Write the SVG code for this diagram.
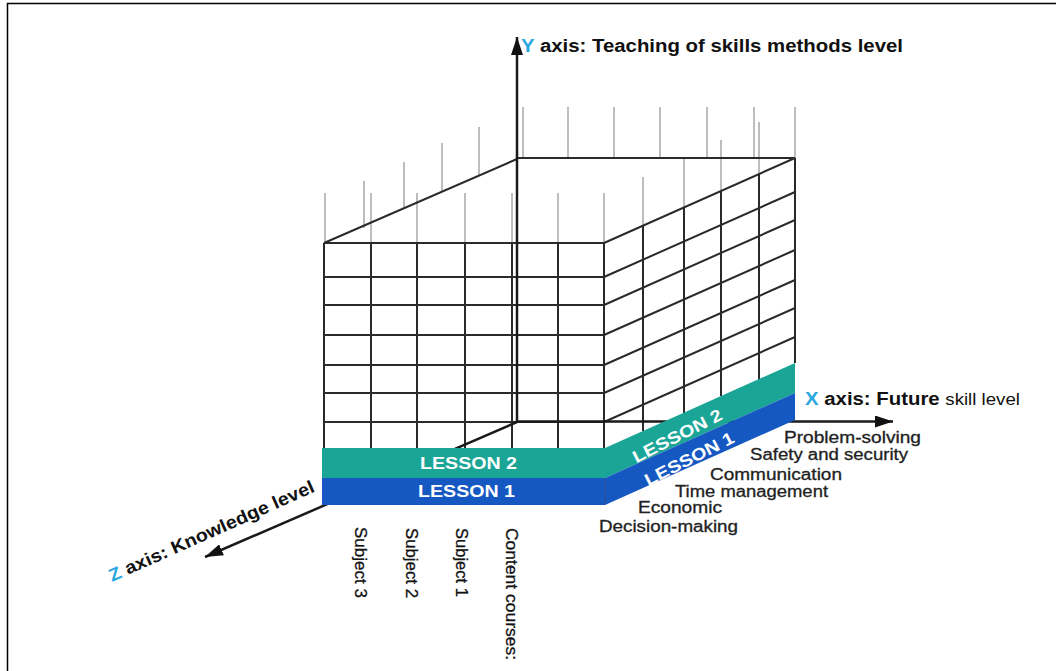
<svg xmlns="http://www.w3.org/2000/svg" width="1056" height="671" viewBox="0 0 1056 671">
<style>
.tick{stroke:#a8a8a8;stroke-width:1.5;fill:none}
.grid{stroke:#2a2a2a;stroke-width:2;fill:none}
.axis{stroke:#1a1a1a;stroke-width:2.5;fill:none}
.lbl{font-family:"Liberation Sans",Arial,sans-serif;font-weight:bold;font-size:18px;fill:#111}
.cy{fill:#2aa7df}
.nrm{font-weight:normal}
.sk{font-family:"Liberation Sans",Arial,sans-serif;font-size:16px;fill:#222;stroke:#222;stroke-width:0.3}
.sub{font-family:"Liberation Sans",Arial,sans-serif;font-size:17px;fill:#111;stroke:#111;stroke-width:0.3}
.les{font-family:"Liberation Sans",Arial,sans-serif;font-weight:bold;font-size:17px;fill:#fff}
.teal{fill:#1aa596}
.blue{fill:#1658c2}
</style>
<defs>
<marker id="ah" markerUnits="userSpaceOnUse" markerWidth="18" markerHeight="12" refX="18" refY="6" orient="auto">
<path d="M0,0 L18,6 L0,12 z" fill="#111"/>
</marker>
</defs>
<rect width="1056" height="671" fill="#fff"/>
<g id="frame" stroke="#000" stroke-width="1.5" fill="none">
<path d="M1056,3.5 H7.5 V671"/>
</g>
<g id="cube">
<g id="ticks" class="tick">
<path d="M325,193V243 M371,193V243 M417,193V243 M465,193V243 M512,193V243 M558,193V243 M604,193V243"/>
<path d="M364,181V228 M404,162V209 M442,143V192 M479,127V176"/>
<path d="M523,107V158 M568,107V158 M614,107V158 M660,107V158 M707,107V158 M754,107V158 M795,107V158"/>
<path d="M643,177V226 M684,157V208 M721,140V190 M759,122V174"/>
</g>
<g id="front-face" class="grid">
<path d="M324,243V448 M371,243V448 M417,243V448 M465,243V448 M512,243V448 M558,243V448 M604,243V448"/>
<path d="M324,243H604 M324,277H604 M324,305H604 M324,335H604 M324,365H604 M324,393H604 M324,422H604"/>
</g>
<g id="top-face" class="grid">
<path d="M324,243L517,159 M517,158H795 M604,243L795,158"/>
</g>
<g id="right-face" class="grid">
<path d="M604,277L795,192 M604,305L795,220 M604,335L795,250 M604,365L795,280 M604,393L795,308 M604,422L795,337"/>
<path d="M643,226V431 M684,208V413 M721,191V396 M759,174V380 M795,158V363"/>
</g>
</g>
<g id="connectors">
<line id="y-axis" class="axis" x1="517" y1="422" x2="517" y2="37" marker-end="url(#ah)"/>
<line id="x-axis" class="axis" x1="517" y1="421.5" x2="893" y2="421.5" marker-end="url(#ah)"/>
<line id="z-axis" class="axis" x1="517" y1="422" x2="205" y2="557" marker-end="url(#ah)"/>
</g>
<g id="lesson-2">
<rect class="teal" x="322" y="448" width="283" height="30"/>
<polygon class="teal" points="605,448 795,363 795,393 605,478"/>
<text class="les" x="420" y="469" textLength="97" lengthAdjust="spacingAndGlyphs">LESSON 2</text>
<text class="les" transform="translate(680,441) rotate(-27)" text-anchor="middle" textLength="98" lengthAdjust="spacingAndGlyphs">LESSON 2</text>
</g>
<g id="lesson-1">
<rect class="blue" x="322" y="478" width="283" height="27"/>
<polygon class="blue" points="605,478 795,393 795,420 605,505"/>
<line x1="605" y1="478" x2="605" y2="505" stroke="#2c4f8f" stroke-width="1"/>
<text class="les" x="418" y="497" textLength="97" lengthAdjust="spacingAndGlyphs">LESSON 1</text>
<text class="les" transform="translate(692,464) rotate(-27)" text-anchor="middle" textLength="98" lengthAdjust="spacingAndGlyphs">LESSON 1</text>
</g>
<g id="y-label">
<text class="lbl" x="521" y="52" textLength="382" lengthAdjust="spacingAndGlyphs"><tspan class="cy">Y</tspan> axis: Teaching of skills methods level</text>
</g>
<g id="x-label">
<text class="lbl" x="805" y="405" textLength="215" lengthAdjust="spacingAndGlyphs"><tspan class="cy">X</tspan> axis: Future <tspan class="nrm" font-size="16.5">skill level</tspan></text>
</g>
<g id="z-label">
<text class="lbl" transform="translate(112,582) rotate(-24)" textLength="223" lengthAdjust="spacingAndGlyphs"><tspan class="cy">Z</tspan> axis: Knowledge level</text>
</g>
<g id="skills">
<text class="sk" x="784" y="443" textLength="137" lengthAdjust="spacingAndGlyphs">Problem-solving</text>
<text class="sk" x="750" y="460" textLength="158" lengthAdjust="spacingAndGlyphs">Safety and security</text>
<text class="sk" x="710" y="480" textLength="132" lengthAdjust="spacingAndGlyphs">Communication</text>
<text class="sk" x="675" y="497" textLength="153" lengthAdjust="spacingAndGlyphs">Time management</text>
<text class="sk" x="638" y="513" textLength="84" lengthAdjust="spacingAndGlyphs">Economic</text>
<text class="sk" x="599" y="532" textLength="139" lengthAdjust="spacingAndGlyphs">Decision-making</text>
</g>
<g id="subjects">
<text class="sub" transform="translate(355,527) rotate(90)" textLength="71" lengthAdjust="spacingAndGlyphs">Subject 3</text>
<text class="sub" transform="translate(406,528) rotate(90)" textLength="70" lengthAdjust="spacingAndGlyphs">Subject 2</text>
<text class="sub" transform="translate(456,528) rotate(90)" textLength="69" lengthAdjust="spacingAndGlyphs">Subject 1</text>
<text class="sub" transform="translate(506,528) rotate(90)" textLength="132" lengthAdjust="spacingAndGlyphs">Content courses:</text>
</g>
</svg>
